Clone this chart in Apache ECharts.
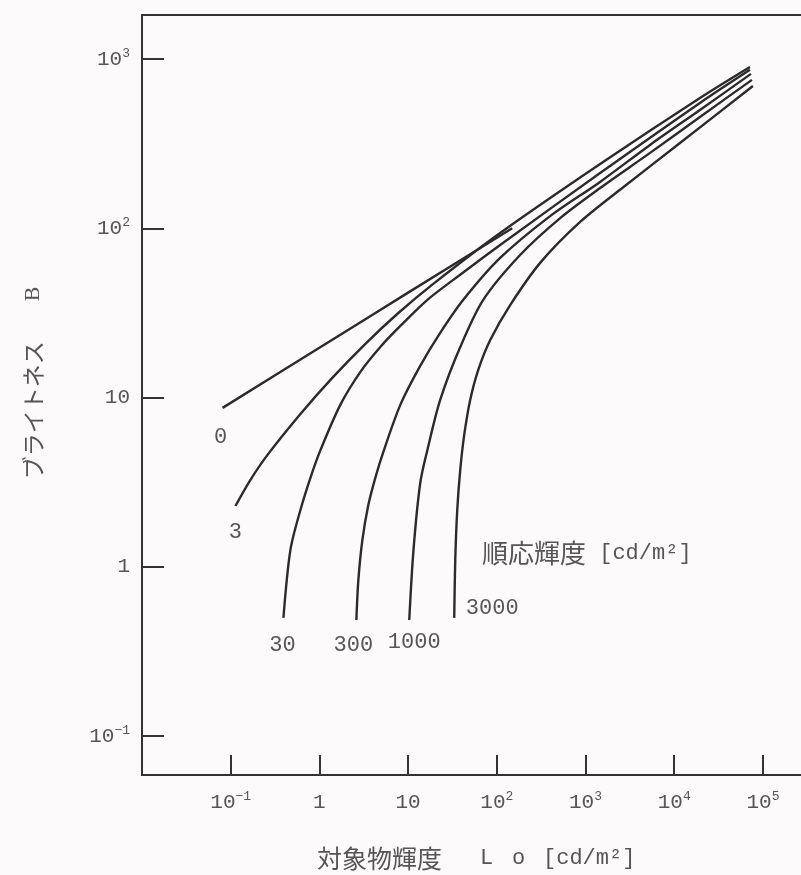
<!DOCTYPE html>
<html><head><meta charset="utf-8">
<script src="https://cdn.jsdelivr.net/npm/echarts@6/dist/echarts.min.js"></script>
<style>html,body{margin:0;padding:0;background:#fcfafb;}#c{width:801px;height:875px;}</style>
</head><body><div id="c"></div>
<script>
// Adaptation luminance labels [cd/m2]
const adaptLabels = ['0', '3', '30', '300', '1000', '3000'];
// Object luminance Lo [cd/m2] vs brightness B
const curve0 = [[0.081, 8.7], [1, 19.7], [10, 41.7], [149, 100]];
const curve3 = [[0.113, 2.29], [0.167, 3.27], [0.26, 4.59], [0.611, 8.01], [1.44, 13.3], [3.3, 20.8], [7.76, 31.6], [19.2, 47.0], [109, 93.9], [1460, 240], [19500, 589], [71400, 898]];
const curve30 = [[0.393, 0.5], [0.471, 1.26], [0.611, 2.17], [0.792, 3.36], [1.03, 4.91], [1.72, 9.06], [2.9, 14.2], [4.86, 19.9], [8.17, 26.5], [16.5, 37.8], [32.3, 49.6], [109, 79.8], [1460, 212], [19500, 550], [71400, 863]];
const curve300 = [[2.61, 0.486], [2.75, 0.838], [3.05, 1.44], [3.56, 2.32], [4.27, 3.36], [5.26, 4.78], [8.17, 9.06], [13.7, 15.4], [23, 24.1], [41.9, 37.8], [109, 66.8], [399, 118], [1460, 188], [5340, 311], [19500, 500], [73300, 817]];
const curve1000 = [[10.3, 0.486], [11.5, 1.26], [13.7, 3.13], [16.5, 4.91], [23, 9.69], [38.7, 19.9], [70.3, 37.8], [183, 69.6], [518, 115], [1460, 173], [5340, 279], [19500, 455], [75200, 753]];
const curve3000 = [[33.1, 0.5], [34, 1.1], [35.8, 2.17], [38.7, 3.74], [42.9, 6.02], [50.1, 9.69], [61.8, 14.6], [84.3, 21.9], [142, 35.3], [308, 62.5], [869, 109], [2450, 169], [11600, 319], [77100, 693]];
// Tick label exponents
const xTickExps = [-1, 0, 1, 2, 3, 4, 5];
const yTickExps = [-1, 0, 1, 2, 3];
// Axis ranges
const xRange = [0.01, 440000];
const yRange = [0.059, 1820];

const curves = [curve0, curve3, curve30, curve300, curve1000, curve3000];
const labelOffsets = [[-2, 29], [0, 26], [-1, 27], [-3, 25], [5, 22], [38, -10]];

const INK = '#2b2b2b';
const TXT = '#555';
const MONO = '"Liberation Mono", "DejaVu Sans Mono", monospace';
const CJK = '"Noto Sans CJK JP", sans-serif';

function powLabel(exps) {
  return function (v) {
    const e = Math.log10(v);
    const k = Math.round(e);
    if (Math.abs(e - k) > 1e-6 || exps.indexOf(k) < 0) return '';
    if (k === 0) return '{b|1}';
    if (k === 1) return '{b|10}';
    return '{b|10}{s|' + (k < 0 ? '\u2212' + (-k) : k) + '}';
  };
}
const tickRich = {
  b: { fontFamily: MONO, fontSize: 21, color: TXT, lineHeight: 24 },
  s: { fontFamily: MONO, fontSize: 13, color: TXT, verticalAlign: 'top', lineHeight: 24 }
};

const chart = echarts.init(document.getElementById('c'));
chart.setOption({
  backgroundColor: '#fcfafb',
  animation: false,
  grid: { left: 142, top: 15, width: 678, height: 760, outerBoundsMode: 'none', show: true, borderColor: '#333', borderWidth: 2, containLabel: false },
  xAxis: {
    type: 'log', min: xRange[0], max: xRange[1],
    axisLine: { show: true, lineStyle: { color: '#333', width: 2 } },
    axisTick: { show: true, inside: true, length: 20, lineStyle: { color: '#333', width: 2 } },
    splitLine: { show: false }, minorTick: { show: false },
    axisLabel: { showMinLabel: false, showMaxLabel: false, margin: 15, formatter: powLabel(xTickExps), rich: tickRich }
  },
  yAxis: {
    type: 'log', min: yRange[0], max: yRange[1],
    axisLine: { show: true, lineStyle: { color: '#333', width: 2 } },
    axisTick: { show: true, inside: true, length: 22, lineStyle: { color: '#333', width: 2 } },
    splitLine: { show: false }, minorTick: { show: false },
    axisLabel: { showMinLabel: false, showMaxLabel: false, margin: 12, formatter: powLabel(yTickExps), rich: tickRich }
  },
  series: curves.map(function (d, i) {
    return {
      type: 'line', name: adaptLabels[i], silent: true,
      smooth: 0.3, showSymbol: true, showAllSymbol: true, symbol: 'circle', symbolSize: 0.01,
      itemStyle: { color: INK }, lineStyle: { color: INK, width: 2.4 },
      label: { show: false },
      data: d.map(function (p, j) {
        if (j !== 0) return p;
        return { value: p, label: { show: true, position: 'inside', offset: labelOffsets[i], formatter: adaptLabels[i], color: TXT, fontFamily: MONO, fontSize: 22 } };
      })
    };
  }),
  graphic: [
    { type: 'text', x: 33, y: 383, rotation: Math.PI / 2, silent: true,
      style: { text: '{k|ブライトネス}{g| }{b|B}', align: 'center', verticalAlign: 'middle',
        rich: { k: { fontFamily: CJK, fontSize: 23, fill: TXT }, g: { width: 40 }, b: { fontFamily: '"Liberation Serif", serif', fontSize: 22, fill: TXT } } } },
    { type: 'text', x: 482, y: 553, silent: true,
      style: { text: '{j|順応輝度}{m| [cd/m²]}', align: 'left', verticalAlign: 'middle',
        rich: { j: { fontFamily: CJK, fontSize: 26, fill: TXT }, m: { fontFamily: MONO, fontSize: 22, fill: TXT } } } },
    { type: 'text', x: 317, y: 858, silent: true,
      style: { text: '対象物輝度', font: '25px ' + CJK, fill: TXT, align: 'left', verticalAlign: 'middle' } },
    { type: 'text', x: 480, y: 858, silent: true,
      style: { text: 'L', font: '22px ' + MONO, fill: TXT, align: 'left', verticalAlign: 'middle' } },
    { type: 'text', x: 512, y: 858, silent: true,
      style: { text: 'o', font: '22px ' + MONO, fill: TXT, align: 'left', verticalAlign: 'middle' } },
    { type: 'text', x: 543, y: 858, silent: true,
      style: { text: '[cd/m²]', font: '22px ' + MONO, fill: TXT, align: 'left', verticalAlign: 'middle' } }
  ]
});
</script>
</body></html>
